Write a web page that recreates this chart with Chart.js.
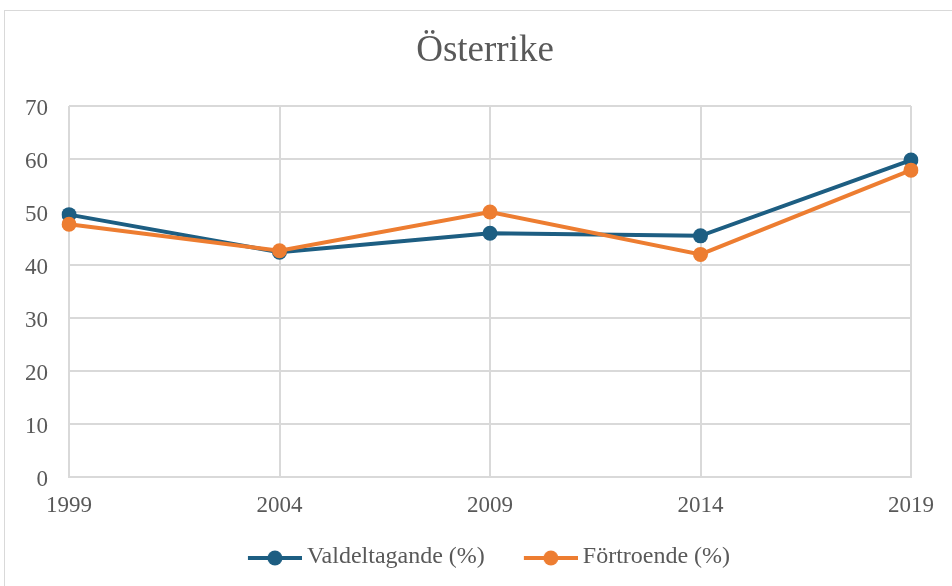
<!DOCTYPE html>
<html>
<head>
<meta charset="utf-8">
<script src="https://cdn.jsdelivr.net/npm/chart.js@4/dist/chart.umd.min.js"></script>
<style>
  html, body { margin: 0; padding: 0; background: #fff; overflow: hidden; }
  #wrap { position: relative; width: 952px; height: 586px; }
  #frame { position: absolute; left: 4px; top: 10px; width: 960px; height: 600px; border: 1px solid #d9d9d9; box-sizing: border-box; }
  #myChart { position: absolute; left: 0; top: 0; }
</style>
</head>
<body>
<div id="wrap">
  <div id="frame"></div>
  <canvas id="myChart" width="952" height="586"></canvas>
</div>
<script>
const labels = ["1999", "2004", "2009", "2014", "2019"];
const valdeltagande = [49.5, 42.4, 46.0, 45.5, 59.8];
const fortroende = [47.7, 42.7, 50.0, 42.0, 57.9];

const blue = "#1d5e82";
const orange = "#ed7d31";
const textColor = "#595959";
const gridColor = "#d9d9d9";
const fontFamily = "'Liberation Serif', 'Times New Roman', serif";

// legend marker: a short line with a dot, like the series it stands for
function legendMarker(color){
  const c = document.createElement("canvas");
  c.width = 69;
  c.height = 20;
  const g = c.getContext("2d");
  g.strokeStyle = color;
  g.lineWidth = 4;
  g.beginPath();
  g.moveTo(15, 11);
  g.lineTo(69, 11);
  g.stroke();
  g.fillStyle = color;
  g.beginPath();
  g.arc(42, 11, 7.5, 0, Math.PI * 2);
  g.fill();
  return c;
}

const markers = [legendMarker(blue), legendMarker(orange)];

const ctx = document.getElementById("myChart").getContext("2d");
const myChart = new Chart(ctx, {
  type: "line",
  data: {
    labels: labels,
    datasets: [
      {
        label: "Valdeltagande (%)",
        data: valdeltagande,
        borderColor: blue,
        backgroundColor: blue,
        borderWidth: 4,
        pointRadius: 7.5,
        pointBorderWidth: 0,
        order: 1
      },
      {
        label: "Förtroende (%)",
        data: fortroende,
        borderColor: orange,
        backgroundColor: orange,
        borderWidth: 4,
        pointRadius: 7.5,
        pointBorderWidth: 0,
        order: 0
      }
    ]
  },
  options: {
    responsive: false,
    animation: false,
    events: [],
    layout: {
      padding: { top: 0, left: 18, right: 0, bottom: 7 }
    },
    plugins: {
      title: {
        display: true,
        text: "Österrike",
        color: textColor,
        font: { family: fontFamily, size: 37, weight: "normal" },
        padding: { top: 28.8, bottom: 32.8 }
      },
      legend: {
        position: "bottom",
        labels: {
          color: textColor,
          font: { family: fontFamily, size: 24 },
          usePointStyle: true,
          pointStyleWidth: 55,
          padding: 31,
          generateLabels: function(chart){
            return chart.data.datasets.map((ds, i) => ({
              text: ds.label,
              datasetIndex: i,
              pointStyle: markers[i],
              fontColor: textColor,
              hidden: false,
              lineWidth: 0
            }));
          }
        }
      },
      tooltip: { enabled: false }
    },
    scales: {
      x: {
        offset: false,
        grid: { color: gridColor, lineWidth: 2, drawTicks: false },
        border: { color: gridColor, width: 2 },
        ticks: {
          color: textColor,
          font: { family: fontFamily, size: 23 },
          padding: 15.5,
          maxRotation: 0
        },
        afterFit: function(scale){ scale.height = 37; }
      },
      y: {
        min: 0,
        max: 70,
        grid: { color: gridColor, lineWidth: 2, drawTicks: false },
        border: { display: false },
        ticks: {
          stepSize: 10,
          color: textColor,
          font: { family: fontFamily, size: 23 },
          padding: 21,
          labelOffset: 2.5
        },
        afterFit: function(scale){ scale.width = 51; }
      },
      // empty axis on the right that only holds space
      yRight: {
        position: "right",
        grid: { display: false },
        border: { display: false },
        ticks: { display: false },
        afterFit: function(scale){ scale.width = 41; }
      }
    }
  }
});
</script>
</body>
</html>
